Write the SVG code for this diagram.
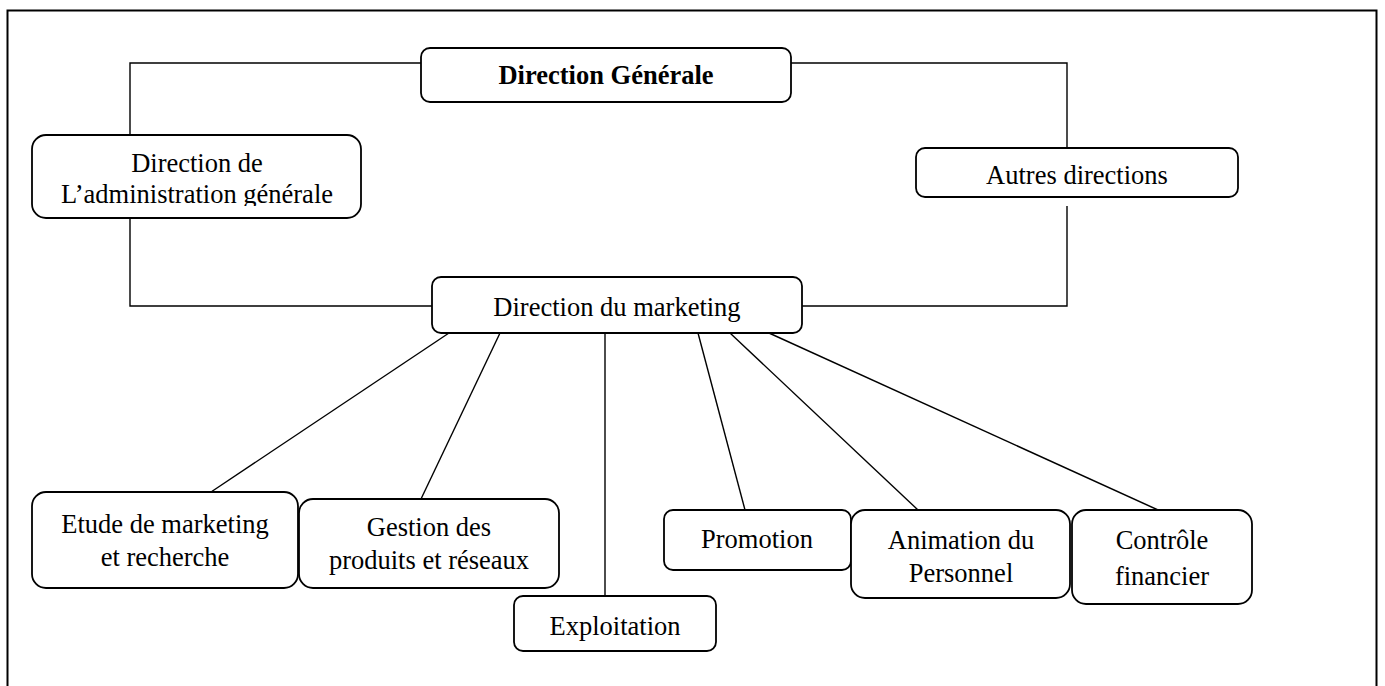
<svg xmlns="http://www.w3.org/2000/svg" width="1385" height="686" viewBox="0 0 1385 686">
<style>
.box{fill:#fff;stroke:#000;stroke-width:1.8}
.t{font-family:"Liberation Serif","Times New Roman",serif;font-size:26.5px;fill:#000;text-anchor:middle}
.b{font-weight:bold}
.c{fill:none;stroke:#000;stroke-width:1.4}
</style>
<defs>
<clipPath id="clipDAG"><rect x="30" y="130" width="335" height="76"/></clipPath>
</defs>
<rect x="0" y="0" width="1385" height="686" fill="#fff"/>
<path d="M7.5 686 V10.5 H1376.5 V686" fill="none" stroke="#000" stroke-width="2"/>
<g id="connectors">
<polyline class="c" points="421,63 130,63 130,135"/>
<polyline class="c" points="791,63 1067,63 1067,148"/>
<polyline class="c" points="130,218 130,306 432,306"/>
<polyline class="c" points="1067,206 1067,306 802,306"/>
<line class="c" x1="449" y1="333" x2="211" y2="492"/>
<line class="c" x1="500" y1="333" x2="421" y2="499"/>
<line class="c" x1="605" y1="333" x2="605" y2="596"/>
<line class="c" x1="698" y1="333" x2="745" y2="510"/>
<line class="c" x1="730" y1="333" x2="918" y2="510"/>
<line class="c" x1="769" y1="333" x2="1158" y2="510"/>
</g>
<g id="dg"><rect class="box" x="421" y="48" width="370" height="54" rx="9"/><text class="t b" x="606" y="84">Direction Générale</text></g>
<g id="dag"><rect class="box" x="32" y="135" width="329" height="83" rx="14"/><g clip-path="url(#clipDAG)"><text class="t" x="197" y="172">Direction de</text><text class="t" x="197" y="203">L’administration générale</text></g></g>
<g id="autres"><rect class="box" x="916" y="148" width="322" height="49" rx="9"/><text class="t" x="1077" y="184">Autres directions</text></g>
<g id="dm"><rect class="box" x="432" y="277" width="370" height="56" rx="9"/><text class="t" x="617" y="316">Direction du marketing</text></g>
<g id="etude"><rect class="box" x="32" y="492" width="266" height="96" rx="14"/><text class="t" x="165" y="533">Etude de marketing</text><text class="t" x="165" y="566">et recherche</text></g>
<g id="gestion"><rect class="box" x="299" y="499" width="260" height="89" rx="14"/><text class="t" x="429" y="536">Gestion des</text><text class="t" x="429" y="569">produits et réseaux</text></g>
<g id="exploitation"><rect class="box" x="514" y="596" width="202" height="55" rx="9"/><text class="t" x="615" y="635">Exploitation</text></g>
<g id="promotion"><rect class="box" x="664" y="510" width="187" height="60" rx="9"/><text class="t" x="757" y="548">Promotion</text></g>
<g id="animation"><rect class="box" x="851" y="510" width="219" height="88" rx="14"/><text class="t" x="961" y="549">Animation du</text><text class="t" x="961" y="582">Personnel</text></g>
<g id="controle"><rect class="box" x="1072" y="510" width="180" height="94" rx="14"/><text class="t" x="1162" y="549">Contrôle</text><text class="t" x="1162" y="585">financier</text></g>
</svg>
